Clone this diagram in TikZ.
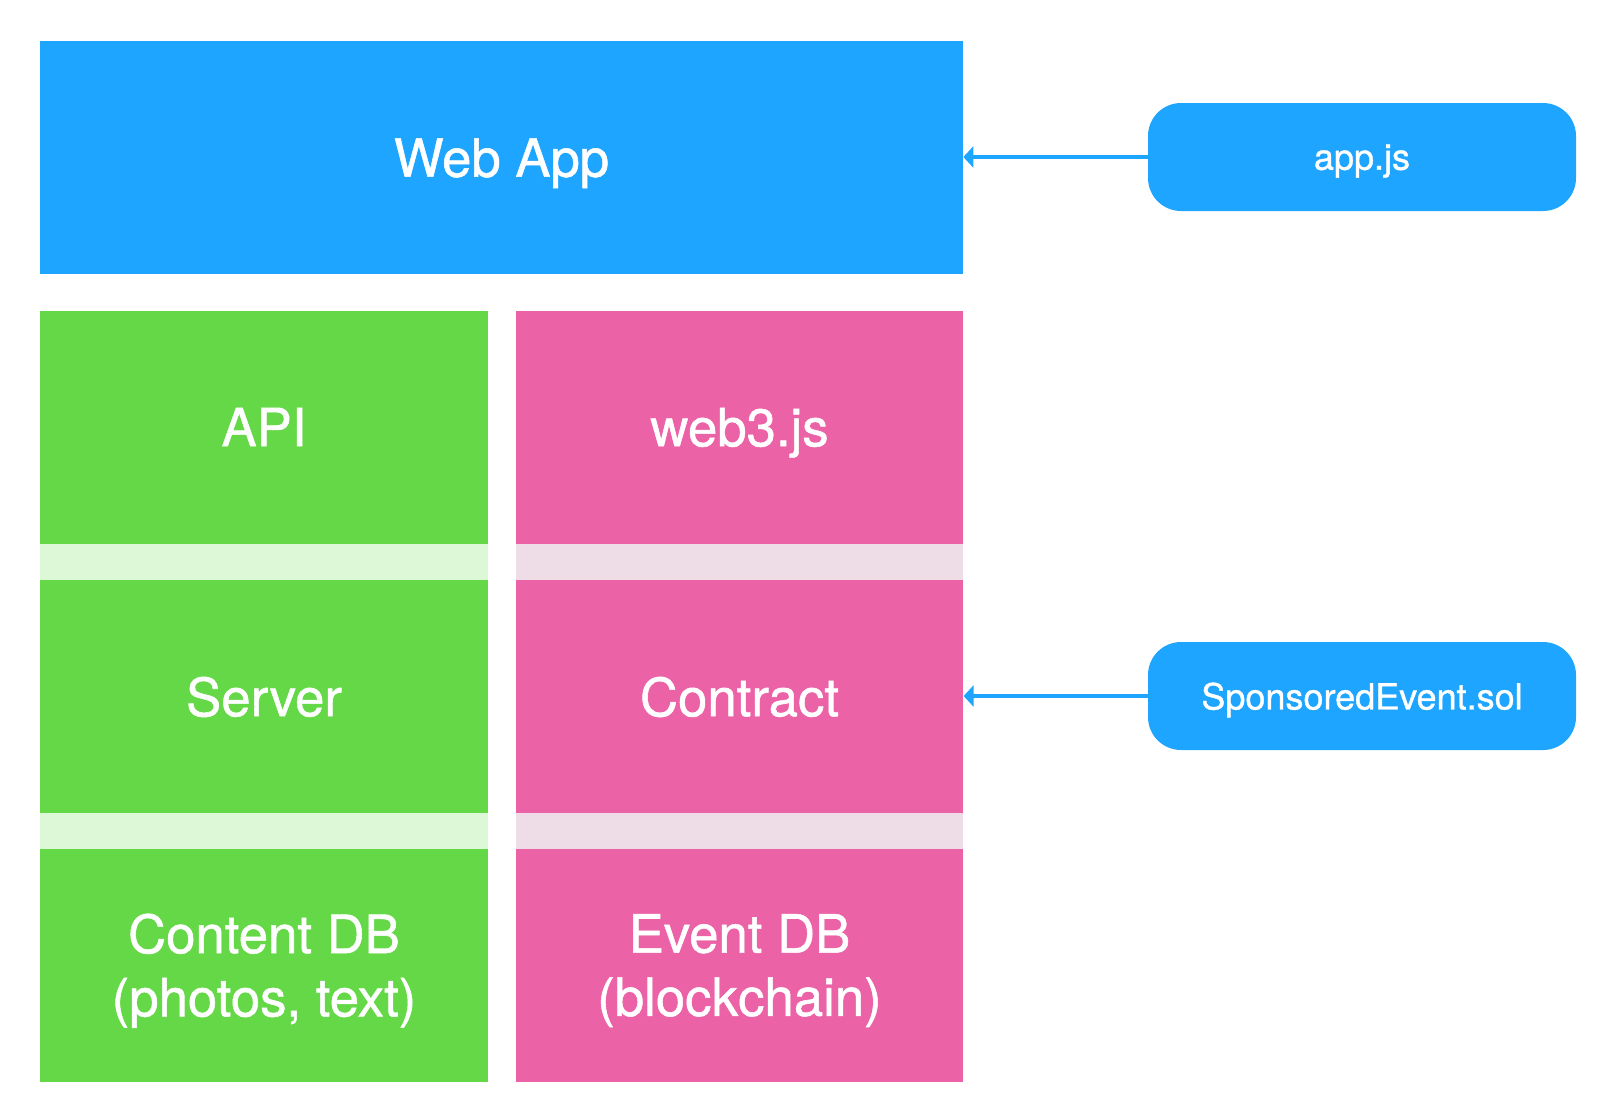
\documentclass[tikz,border=0pt]{standalone}
\usepackage{fontspec}
\setmainfont{TeX Gyre Heros}
\newfontfamily\boxfont[FakeBold=1]{TeX Gyre Heros}
\usepackage{xcolor}
\usepackage{tikz}
\usetikzlibrary{arrows.meta, positioning}

\definecolor{appblue}{RGB}{30,165,255}
\definecolor{apigreen}{RGB}{100,216,70}
\definecolor{bandgreen}{RGB}{220,248,214}
\definecolor{chainpink}{RGB}{236,98,166}
\definecolor{bandpink}{RGB}{238,221,230}

\tikzset{
    layer/.style={fill=#1, draw=none, text=white, minimum width=8.95cm, minimum height=4.66cm,
        align=center, text depth=0pt, font=\boxfont\fontsize{30}{36}\selectfont, inner sep=0pt},
    srcfile/.style={fill=appblue, draw=none, text=white, rounded corners=0.66cm, text depth=0pt,
        minimum width=8.56cm, minimum height=2.16cm, font=\boxfont\fontsize{20.5}{24}\selectfont},
    link/.style={draw=appblue, line width=0.08cm, -{Triangle[length=0.2cm, width=0.42cm]}}
}

\begin{document}
\begin{tikzpicture}
    \useasboundingbox (0,0) rectangle (32.04,-22.24);
    % Top layer
    \node[layer=appblue, minimum width=18.46cm] (webapp) at (10.03,-3.15) {Web App};
    % Gaps between layers
    \fill[bandgreen] (0.8,-10.88) rectangle (9.76,-11.6);
    \fill[bandgreen] (0.8,-16.26) rectangle (9.76,-16.98);
    \fill[bandpink] (10.32,-10.88) rectangle (19.26,-11.6);
    \fill[bandpink] (10.32,-16.26) rectangle (19.26,-16.98);
    % Left stack
    \node[layer=apigreen] (api) at (5.28,-8.54) {API};
    \node[layer=apigreen] (server) at (5.28,-13.93) {Server};
    \node[layer=apigreen] (contentdb) at (5.28,-19.30) {Content DB\\(photos, text)};
    % Right stack
    \node[layer=chainpink] (web3) at (14.79,-8.54) {web3.js};
    \node[layer=chainpink] (contract) at (14.79,-13.93) {Contract};
    \node[layer=chainpink] (eventdb) at (14.79,-19.30) {Event DB\\(blockchain)};
    % Source files
    \node[srcfile] (appjs) at (27.24,-3.14) {app.js};
    \node[srcfile] (solfile) at (27.24,-13.92) {SponsoredEvent.sol};
    % Links
    \draw[link] (appjs.west) -- (webapp.east |- appjs.west);
    \draw[link] (solfile.west) -- (contract.east |- solfile.west);
\end{tikzpicture}
\end{document}
